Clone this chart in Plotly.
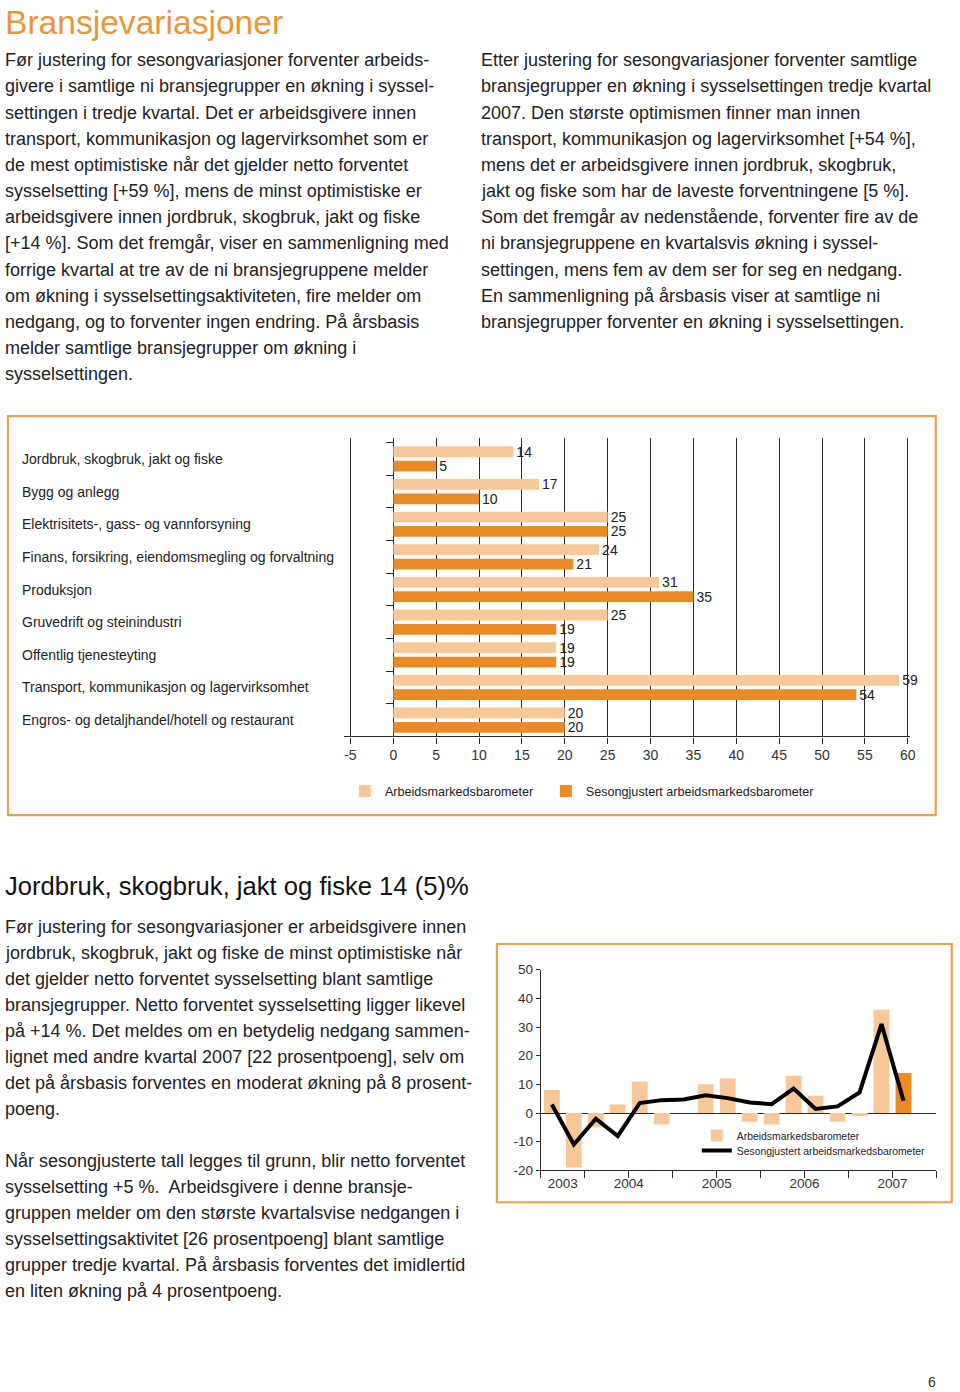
import plotly.graph_objects as go

W, H = 960, 1392

# ---------------- data ----------------
categories = [
    "Jordbruk, skogbruk, jakt og fiske",
    "Bygg og anlegg",
    "Elektrisitets-, gass- og vannforsyning",
    "Finans, forsikring, eiendomsmegling og forvaltning",
    "Produksjon",
    "Gruvedrift og steinindustri",
    "Offentlig tjenesteyting",
    "Transport, kommunikasjon og lagervirksomhet",
    "Engros- og detaljhandel/hotell og restaurant",
]
barometer = [14, 17, 25, 24, 31, 25, 19, 59, 20]
sesongjustert = [5, 10, 25, 21, 35, 19, 19, 54, 20]
x_ticks = [-5, 0, 5, 10, 15, 20, 25, 30, 35, 40, 45, 50, 55, 60]

quarters = ["2003 K3", "2003 K4", "2004 K1", "2004 K2", "2004 K3", "2004 K4",
            "2005 K1", "2005 K2", "2005 K3", "2005 K4", "2006 K1", "2006 K2",
            "2006 K3", "2006 K4", "2007 K1", "2007 K2", "2007 K3"]
hist_barometer = [8, -19, -5, 3, 11, -4, 0, 10, 12, -3, -4, 13, 6, -3, -1, 36, 14]
hist_sesong = [3, -11, -2, -8, 3.5, 4.5, 4.7, 6.2, 5.2, 3.7, 3.1, 8.5, 1.4, 2.3, 7.2, 31, 4.3]
y2_ticks = [-20, -10, 0, 10, 20, 30, 40, 50]
years = ["2003", "2004", "2005", "2006", "2007"]
year_centers = [0.5, 3.5, 7.5, 11.5, 15.5]
half_year_ticks = [-0.5, 1.5, 3.5, 5.5, 7.5, 9.5, 11.5, 13.5, 15.5, 17.5]

title = "Bransjevariasjoner"
left_col = [
    "Før justering for sesongvariasjoner forventer arbeids-",
    "givere i samtlige ni bransjegrupper en økning i syssel-",
    "settingen i tredje kvartal. Det er arbeidsgivere innen",
    "transport, kommunikasjon og lagervirksomhet som er",
    "de mest optimistiske når det gjelder netto forventet",
    "sysselsetting [+59 %], mens de minst optimistiske er",
    "arbeidsgivere innen jordbruk, skogbruk, jakt og fiske",
    "[+14 %]. Som det fremgår, viser en sammenligning med",
    "forrige kvartal at tre av de ni bransjegruppene melder",
    "om økning i sysselsettingsaktiviteten, fire melder om",
    "nedgang, og to forventer ingen endring. På årsbasis",
    "melder samtlige bransjegrupper om økning i",
    "sysselsettingen.",
]
right_col = [
    "Etter justering for sesongvariasjoner forventer samtlige",
    "bransjegrupper en økning i sysselsettingen tredje kvartal",
    "2007. Den største optimismen finner man innen",
    "transport, kommunikasjon og lagervirksomhet [+54 %],",
    "mens det er arbeidsgivere innen jordbruk, skogbruk,",
    "jakt og fiske som har de laveste forventningene [5 %].",
    "Som det fremgår av nedenstående, forventer fire av de",
    "ni bransjegruppene en kvartalsvis økning i syssel-",
    "settingen, mens fem av dem ser for seg en nedgang.",
    "En sammenligning på årsbasis viser at samtlige ni",
    "bransjegrupper forventer en økning i sysselsettingen.",
]
heading2 = "Jordbruk, skogbruk, jakt og fiske 14 (5)%"
bottom_col = [
    "Før justering for sesongvariasjoner er arbeidsgivere innen",
    "jordbruk, skogbruk, jakt og fiske de minst optimistiske når",
    "det gjelder netto forventet sysselsetting blant samtlige",
    "bransjegrupper. Netto forventet sysselsetting ligger likevel",
    "på +14 %. Det meldes om en betydelig nedgang sammen-",
    "lignet med andre kvartal 2007 [22 prosentpoeng], selv om",
    "det på årsbasis forventes en moderat økning på 8 prosent-",
    "poeng.",
    "",
    "Når sesongjusterte tall legges til grunn, blir netto forventet",
    "sysselsetting +5 %.  Arbeidsgivere i denne bransje-",
    "gruppen melder om den største kvartalsvise nedgangen i",
    "sysselsettingsaktivitet [26 prosentpoeng] blant samtlige",
    "grupper tredje kvartal. På årsbasis forventes det imidlertid",
    "en liten økning på 4 prosentpoeng.",
]
page_number = "6"

# ---------------- styles ----------------
FONT = "Liberation Sans"
LIGHT = "#F9C899"
DARK = "#EC8A26"
FRAME = "#EBA24C"
AX = "#2a2a2a"
TXT = "#222222"
S = 0.994           # capture scale observed in the rendering pipeline
BODY = 17.9 / S


def px_x(p):
    return (p / S) / W


def px_y(p):
    return 1 - (p / S) / H


fig = go.Figure()

cat_idx = list(range(len(categories)))

fig.add_trace(go.Bar(
    y=cat_idx, x=barometer, orientation="h", name="Arbeidsmarkedsbarometer",
    marker=dict(color=LIGHT, line=dict(width=0)),
    text=[str(v) for v in barometer], textposition="outside", constraintext="none",
    outsidetextfont=dict(family=FONT, size=14, color=TXT),
    cliponaxis=False, xaxis="x", yaxis="y", legend="legend",
    hovertext=categories,
))
fig.add_trace(go.Bar(
    y=cat_idx, x=sesongjustert, orientation="h", name="Sesongjustert arbeidsmarkedsbarometer",
    marker=dict(color=DARK, line=dict(width=0)),
    text=[str(v) for v in sesongjustert], textposition="outside", constraintext="none",
    outsidetextfont=dict(family=FONT, size=14, color=TXT),
    cliponaxis=False, xaxis="x", yaxis="y", legend="legend3",
    hovertext=categories,
))

q_idx = list(range(len(quarters)))
bar_colors = [LIGHT] * (len(quarters) - 1) + [DARK]
fig.add_trace(go.Bar(
    x=q_idx, y=hist_barometer, name="Arbeidsmarkedsbarometer",
    marker=dict(color=bar_colors, line=dict(width=0)), width=0.72,
    xaxis="x2", yaxis="y2", legend="legend2", hovertext=quarters,
))
fig.add_trace(go.Scatter(
    x=q_idx, y=hist_sesong, name="Sesongjustert arbeidsmarkedsbarometer",
    mode="lines", line=dict(color="#000000", width=4),
    xaxis="x2", yaxis="y2", legend="legend4", hovertext=quarters,
))

# ---------- axes ----------
x0_px, x60_px = 350.5, 908.0
ppu = (x60_px - x0_px) / 65.0
left_px, right_px = 344, 910
top_px, bot_px = 433.5, 733.0
first_boundary = 437.7
pitch = (bot_px - first_boundary) / 9.0

fig.update_layout(
    xaxis=dict(
        domain=[px_x(left_px), px_x(right_px)],
        range=[-5 - (x0_px - left_px) / ppu, 60 + (right_px - x60_px) / ppu],
        tickvals=x_ticks, ticktext=[str(v) for v in x_ticks],
        showgrid=True, gridcolor=AX, gridwidth=1.3,
        showline=True, linecolor=AX, linewidth=1.3,
        ticks="outside", ticklen=6, tickcolor=AX, tickwidth=1.3,
        zeroline=False, tickfont=dict(family=FONT, size=14, color="#333"),
        anchor="y", fixedrange=True,
    ),
    yaxis=dict(
        domain=[px_y(bot_px), px_y(top_px)],
        range=[8.5, -0.5 - (first_boundary - top_px) / pitch],
        tickvals=[-0.5 + i for i in range(9)], showticklabels=False,
        ticks="outside", ticklen=7, tickcolor=AX, tickwidth=1.2,
        showgrid=False, zeroline=False, showline=False,
        anchor="free", position=px_x(x0_px + 5 * ppu), fixedrange=True,
    ),
    xaxis2=dict(
        domain=[px_x(541), px_x(936.7)], range=[-0.5, 17.5],
        tickvals=year_centers, ticktext=years, ticks="",
        minor=dict(tickvals=half_year_ticks, ticks="outside", ticklen=7,
                   tickcolor=AX, tickwidth=1.2, showgrid=False),
        showline=True, linecolor=AX, linewidth=1.2, showgrid=False, zeroline=False,
        tickfont=dict(family=FONT, size=13.5, color="#333"), anchor="y2", fixedrange=True,
    ),
    yaxis2=dict(
        domain=[px_y(1169), px_y(967.3)], range=[-20, 50],
        tickvals=y2_ticks, ticktext=[str(v) for v in y2_ticks],
        ticks="outside", ticklen=4, tickcolor=AX, tickwidth=1.2,
        showline=True, linecolor=AX, linewidth=1.2, showgrid=False,
        zeroline=True, zerolinecolor=AX, zerolinewidth=1.2,
        tickfont=dict(family=FONT, size=13.5, color="#333"), anchor="x2", fixedrange=True,
    ),
)

legend_common = dict(bgcolor="rgba(0,0,0,0)", itemclick=False, itemdoubleclick=False,
                     xanchor="left", yanchor="middle")
fig.update_layout(
    width=W, height=H, margin=dict(l=0, r=0, t=0, b=0),
    paper_bgcolor="white", plot_bgcolor="rgba(0,0,0,0)",
    barmode="group", bargap=0.12, bargroupgap=0.25,
    font=dict(family=FONT, color=TXT),
    showlegend=True,
    legend=dict(x=px_x(345), y=px_y(788), font=dict(family=FONT, size=12.6, color=TXT),
                **legend_common),
    legend3=dict(x=px_x(546), y=px_y(788), font=dict(family=FONT, size=12.6, color=TXT),
                 **legend_common),
    legend2=dict(x=px_x(697), y=px_y(1134), font=dict(family=FONT, size=10.4, color=TXT),
                 **legend_common),
    legend4=dict(x=px_x(697), y=px_y(1149), font=dict(family=FONT, size=10.4, color=TXT),
                 **legend_common),
)

# ---------- frames ----------
fig.add_shape(type="rect", xref="paper", yref="paper",
              x0=px_x(8), x1=px_x(936), y0=px_y(812), y1=px_y(411),
              line=dict(color=FRAME, width=2.2), fillcolor="rgba(0,0,0,0)", layer="below")
fig.add_shape(type="rect", xref="paper", yref="paper",
              x0=px_x(497), x1=px_x(952), y0=px_y(1201), y1=px_y(941.5),
              line=dict(color=FRAME, width=2.2), fillcolor="rgba(0,0,0,0)", layer="below")

# ---------- category labels ----------
for i, c in enumerate(categories):
    fig.add_annotation(text=c, xref="paper", yref="y", x=px_x(20), y=i,
                       xanchor="left", yanchor="middle", showarrow=False,
                       font=dict(family=FONT, size=14, color=TXT))

# ---------- page text ----------
def add_line(text, x, y, size, color=TXT):
    if not text:
        return
    fig.add_annotation(text=text, xref="paper", yref="paper", x=px_x(x), y=px_y(y),
                       xanchor="left", yanchor="middle", showarrow=False,
                       font=dict(family=FONT, size=size, color=color))

add_line(title, 3, 16, 33.6, "#E8963C")
LS = 26.3
for k, line in enumerate(left_col):
    add_line(line, 3, 53.5 + k * LS, BODY)
for k, line in enumerate(right_col):
    add_line(line, 479, 53.5 + k * LS, BODY)
add_line(heading2, 3, 883, 25.6, "#111")
LS2 = 26.1
for k, line in enumerate(bottom_col):
    add_line(line, 3, 924.5 + k * LS2, BODY)
fig.add_annotation(text=page_number, xref="paper", yref="paper", x=px_x(932), y=px_y(1382),
                   xanchor="center", yanchor="middle", showarrow=False,
                   font=dict(family=FONT, size=14, color="#333"))

fig.write_html(
    "out.html",
    config={"displayModeBar": False},
    post_script=("document.documentElement.style.margin='0';"
                 "document.body.style.margin='0';"
                 "document.body.style.overflow='hidden';"
                 "document.documentElement.style.overflow='hidden';"),
)
